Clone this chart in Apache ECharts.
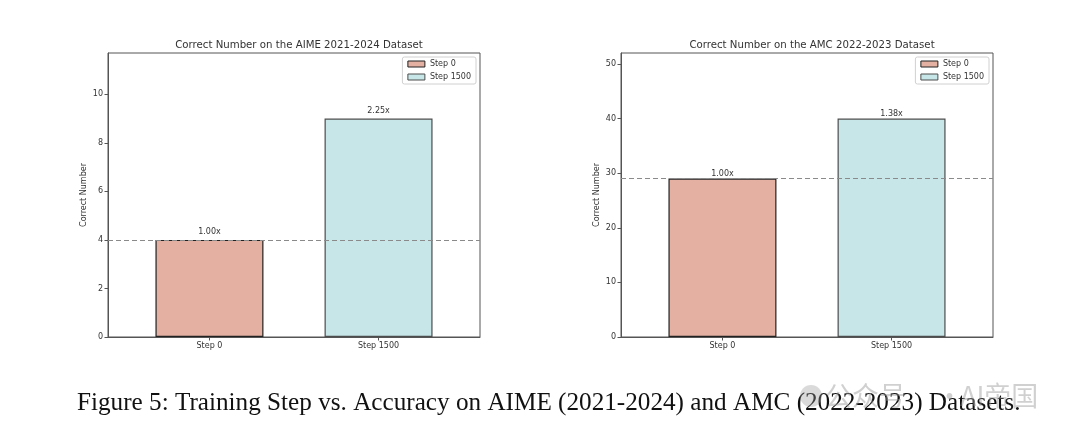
<!DOCTYPE html>
<html>
<head>
<meta charset="utf-8">
<script src="https://cdn.jsdelivr.net/npm/echarts@6/dist/echarts.min.js"></script>
<style>
html,body{margin:0;padding:0;background:#fff;}
#c{width:1080px;height:444px;}
</style>
</head>
<body>
<div id="c"></div>
<script>
// ---- data ----
const categories = ['Step 0', 'Step 1500'];
const aimeValues = [4, 9];
const amcValues = [29, 40];
const titles = ['Correct Number on the AIME 2021-2024 Dataset', 'Correct Number on the AMC 2022-2023 Dataset'];
const yName = 'Correct Number';
const aimeTicks = [0, 2, 4, 6, 8, 10];
const amcTicks = [0, 10, 20, 30, 40, 50];
const caption = 'Figure 5: Training Step vs. Accuracy on AIME (2021-2024) and AMC (2022-2023) Datasets.';
const watermarkParts = ['公众号', '·', 'AI帝国'];

const fills = ['#e3b0a2', '#c7e6e8'];
const borders = ['#222222', '#4d4d4d'];
const txt = '#333333';
const font = 'DejaVu Sans';

const grids = [
  {left: 108, top: 53, width: 372, height: 284},
  {left: 621, top: 53, width: 372, height: 284}
];
const datasets = [aimeValues, amcValues];
const tickSets = [aimeTicks, amcTicks];
const labelDist = [4, 1];

const option = {
  animation: false,
  textStyle: {fontFamily: font},
  title: [],
  legend: [],
  grid: [],
  xAxis: [],
  yAxis: [],
  series: [],
  graphic: []
};

grids.forEach((g, i) => {
  const vals = datasets[i];
  const ticks = tickSets[i];
  const base = vals[0];
  option.grid.push(Object.assign({show: true, borderColor: '#555', borderWidth: 1, containLabel: false}, g));
  option.title.push({
    text: titles[i], left: g.left + g.width / 2, top: 35, textAlign: 'center',
    textStyle: {fontSize: 10.2, fontWeight: 'normal', color: txt, fontFamily: font}
  });
  option.legend.push({
    orient: 'vertical', right: 1080 - (g.left + g.width) + 4, top: 57,
    data: categories, itemWidth: 17, itemHeight: 6, itemGap: 3,
    padding: [2, 5, 2, 5], borderColor: '#d0d0d0', borderWidth: 1, borderRadius: 2,
    backgroundColor: 'rgba(255,255,255,0.8)', icon: 'rect',
    itemStyle: {borderWidth: 1},
    textStyle: {fontSize: 8, color: txt, lineHeight: 10, fontFamily: font},
    selectedMode: false
  });
  option.xAxis.push({
    type: 'value', gridIndex: i, min: -0.6, max: 1.6,
    axisLine: {show: true, onZero: false, lineStyle: {color: '#555'}},
    axisTick: {show: true, inside: false, length: 3.5, lineStyle: {color: '#555'}, customValues: [0, 1]},
    axisLabel: {show: true, fontSize: 8, color: txt, margin: 5, customValues: [0, 1],
      formatter: v => categories[Math.round(v)] || ''},
    splitLine: {show: false}
  });
  option.yAxis.push({
    type: 'value', gridIndex: i, min: 0, max: vals[1] * 1.3,
    name: yName, nameLocation: 'middle', nameGap: 20.5, nameRotate: 90,
    nameTextStyle: {fontSize: 8, color: txt, fontFamily: font},
    axisLine: {show: true, onZero: false, lineStyle: {color: '#555'}},
    axisTick: {show: true, length: 3.5, lineStyle: {color: '#555'}, customValues: ticks},
    axisLabel: {fontSize: 8, color: txt, margin: 5, customValues: ticks},
    splitLine: {show: false}
  });
  categories.forEach((name, k) => {
    const s = {
      name: name, type: 'bar', xAxisIndex: i, yAxisIndex: i,
      data: [[k, vals[k]]], barWidth: 108, barGap: '-100%',
      itemStyle: {color: fills[k], borderColor: borders[k], borderWidth: 1.2},
      label: {show: true, position: 'top', distance: labelDist[i], fontSize: 8, color: txt,
        formatter: p => (p.value[1] / base).toFixed(2) + 'x'},
      z: 2
    };
    if (k === 0) {
      s.markLine = {
        silent: true, symbol: 'none', z: 5,
        lineStyle: {type: [5, 3], color: '#8a8a8a', width: 1.1},
        label: {show: false},
        data: [{yAxis: base}]
      };
    }
    option.series.push(s);
  });
});

option.graphic.push({
  type: 'text', x: 77, y: 403, z: 10,
  style: {text: caption, fontFamily: 'Liberation Serif', fontSize: 25.2, fill: '#111', verticalAlign: 'middle'}
});
option.graphic.push({
  type: 'circle', shape: {cx: 811, cy: 396, r: 11}, z: 20,
  style: {fill: 'rgba(150,150,150,0.35)'}
});
const wmX = [825, 936, 960];
watermarkParts.forEach((t, k) => {
  option.graphic.push({
    type: 'text', x: wmX[k], y: 396, z: 20,
    style: {text: t, fontFamily: 'Noto Sans CJK SC', fontSize: 27, fill: 'rgba(150,150,150,0.45)', verticalAlign: 'middle'}
  });
});

const chart = echarts.init(document.getElementById('c'));
chart.setOption(option);
</script>
</body>
</html>
